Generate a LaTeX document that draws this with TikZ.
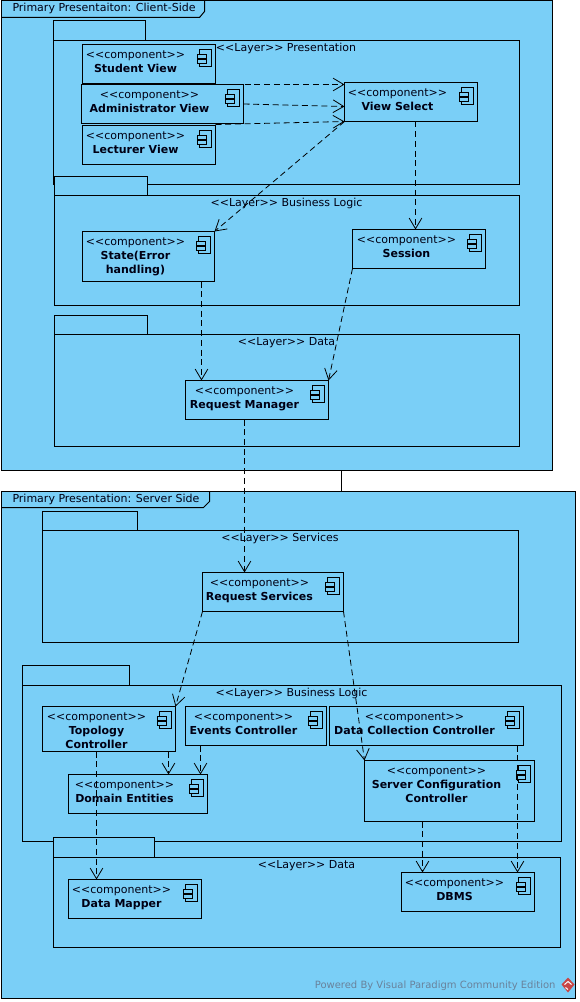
\documentclass[tikz,border=0pt]{standalone}
\usepackage{fontspec}
\setmainfont{DejaVu Sans}
\usetikzlibrary{arrows.meta,calc}
\definecolor{vpblue}{RGB}{122,207,247}
\definecolor{vpgray}{RGB}{105,130,155}
\definecolor{vpred}{RGB}{200,70,70}
\tikzset{
  every node/.style={font=\fontsize{8.25pt}{10.5pt}\selectfont,text=black!92!blue},
  box/.style={draw,fill=vpblue,line width=0.75pt,anchor=north west,inner sep=0pt,outer sep=0pt},
  txt/.style={align=center,inner sep=0pt,outer sep=0pt},
  dep/.style={dash pattern=on 4.5pt off 2.8pt,line width=0.6pt,-{Straight Barb[length=8pt,width=9.5pt,line width=0.6pt]}},
  pics/compicon/.style={code={
    \draw[line width=0.75pt] (-16,5) rectangle (-4,22);
    \draw[line width=0.75pt,fill=vpblue] (-18,10) rectangle (-9,14);
    \draw[line width=0.75pt,fill=vpblue] (-18,15) rectangle (-9,19);
  }}
}
% box from (x1,y1) to (x2,y2) in pixels
\newcommand{\pxbox}[5]{\node[box,minimum width={(#4-#2)*0.75pt},minimum height={(#5-#3)*0.75pt}] (#1) at (#2,#3) {};}
% id, x1, y1, x2, y2, text centre, name
\newcommand{\comp}[7]{\pxbox{#1}{#2}{#3}{#4}{#5}
  \pic at (#1.north east) {compicon};
  \node[txt,anchor=north] (#1t) at (#6,#3+6) {<{}<component>{}>\\\bfseries #7};}
% id, x1, tab x2, tab y, body y, x2, y2, text
\newcommand{\layer}[8]{\pxbox{#1tab}{#2}{#4}{#3}{#5}
  \pxbox{#1}{#2}{#5}{#6}{#7}
  \node[txt,anchor=north] (#1t) at ($(#1.north)+(-0.5,3)$) {<{}<Layer>{}> #8};}

\begin{document}
\begin{tikzpicture}[x=0.75pt,y=-0.75pt]
    \useasboundingbox (-0.5,-0.5) rectangle (578.5,1001.5);

    % client side
    \pxbox{client}{1}{0}{552}{470}
    \draw[line width=0.75pt] (1,17) -- (199,17) -- (204,11) -- (204,0);
    \node[txt,anchor=west] (clientt) at (12,8) {Primary Presentaiton: Client-Side};

    \layer{pres}{53}{145}{20}{40}{519}{184}{Presentation}
    \layer{logic}{54}{147}{176}{195}{519}{305}{Business Logic}
    \layer{data}{54}{147}{315}{334}{519}{446}{Data}

    \comp{student}{82}{44}{215}{83}{135}{Student View}
    \comp{admin}{81}{84}{243}{123}{149}{Administrator View}
    \comp{lecturer}{82}{125}{215}{164}{135}{Lecturer View}
    \comp{viewselect}{344}{82}{477}{121}{397}{View Select}
    \comp{state}{82}{231}{214}{281}{135}{State(Error\\\bfseries handling)}
    \comp{session}{352}{229}{485}{268}{406}{Session}
    \comp{reqman}{185}{380}{328}{419}{244}{Request Manager}

    % server side
    \pxbox{server}{1}{491}{575}{998}
    \draw[line width=0.75pt] (1,507) -- (203,507) -- (209,501) -- (209,491);
    \node[txt,anchor=west] (servert) at (12,499) {Primary Presentation: Server Side};

    \layer{serv}{42}{137}{511}{530}{518}{642}{Services}
    \layer{blogic}{22}{129}{665}{685}{561}{841}{Business Logic}
    \layer{sdata}{53}{154}{837}{857}{560}{947}{Data}

    \comp{reqserv}{202}{572}{343}{611}{259}{Request Services}
    \comp{topology}{42}{706}{175}{751}{96}{Topology\\\bfseries Controller}
    \comp{events}{185}{706}{326}{745}{243}{Events Controller}
    \comp{collect}{329}{706}{523}{745}{414}{Data Collection Controller}
    \comp{domain}{68}{774}{207}{813}{124}{Domain Entities}
    \comp{config}{364}{760}{534}{821}{436}{Server Configuration\\\bfseries Controller}
    \comp{mapper}{68}{879}{201}{918}{121}{Data Mapper}
    \comp{dbms}{401}{872}{534}{911}{454}{DBMS}

    \draw[line width=0.75pt] ($(client.south west)+(340,0)$) -- ($(server.north west)+(340,0)$);

    \draw[dep] ($(student.south east)+(0,1)$) -- ($(viewselect.north west)+(0,2)$);
    \draw[dep] (admin.east) -- ($(viewselect.north west)+(0,24)$);
    \draw[dep] ($(lecturer.north east)+(0,-1)$) -- (viewselect.south west);
    \draw[dep] (viewselect.south west) -- (state.north east);
    \draw[dep] ($(viewselect.south west)+(71,0)$) -- ($(session.north west)+(63,0)$);
    \draw[dep] ($(state.south west)+(119,0)$) -- ($(reqman.north west)+(16,0)$);
    \draw[dep] (session.south west) -- (reqman.north east);
    \draw[dep] ($(reqman.south west)+(59,0)$) -- ($(reqserv.north west)+(42,0)$);
    \draw[dep] (reqserv.south west) -- (topology.north east);
    \draw[dep] (reqserv.south east) -- (config.north west);
    \draw[dep] ($(topology.south west)+(126,0)$) -- ($(domain.north west)+(100,0)$);
    \draw[dep] ($(events.south west)+(15,0)$) -- ($(domain.north west)+(132,0)$);
    \draw[dep] ($(topology.south west)+(54,0)$) -- ($(mapper.north west)+(28,0)$);
    \draw[dep] ($(config.south west)+(58,0)$) -- ($(dbms.north west)+(21,0)$);
    \draw[dep] ($(collect.south west)+(188,0)$) -- ($(dbms.north west)+(116,0)$);

    % watermark
    \node[txt,anchor=east,text=vpgray,font=\fontsize{7.5pt}{9pt}\selectfont] (powered) at (555,985) {Powered By Visual Paradigm Community Edition};
    \fill[vpred] (567.5,977) -- (574,984) -- (567.5,992) -- (561,984) -- cycle;
    \draw[white,line width=0.75pt] (564,984) -- (567.5,981) -- (571,984) (565,987) -- (567.5,989);
\end{tikzpicture}
\end{document}
